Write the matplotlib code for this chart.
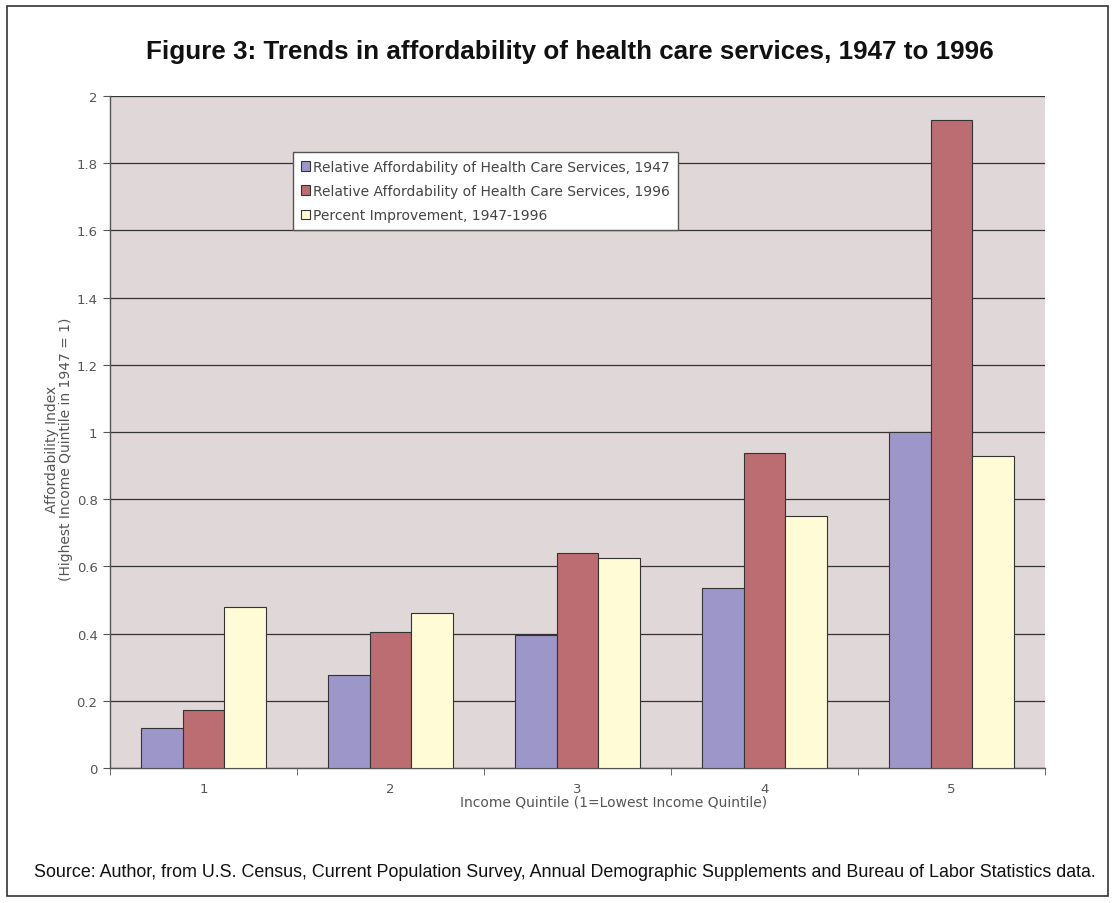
import numpy as np
import matplotlib.pyplot as plt
from matplotlib.patches import Rectangle

quintiles = ["1", "2", "3", "4", "5"]
afford_1947 = [0.118, 0.277, 0.396, 0.536, 1.0]
afford_1996 = [0.172, 0.405, 0.64, 0.937, 1.93]
pct_improve = [0.478, 0.461, 0.625, 0.75, 0.929]

series_names = [
    "Relative Affordability of Health Care Services, 1947",
    "Relative Affordability of Health Care Services, 1996",
    "Percent Improvement, 1947-1996",
]
colors = ["#9C97C8", "#BC6D71", "#FFFBD6"]

W, H = 1114, 904
fig = plt.figure(figsize=(W / 100, H / 100), dpi=100)
fig.patch.set_facecolor("white")

# outer frame
fig.patches.append(Rectangle((7 / W, 1 - 897 / H), 1101 / W, 890 / H,
                             transform=fig.transFigure, fill=False,
                             edgecolor="#333333", linewidth=1.2))

ax = fig.add_axes([110 / W, 1 - 769 / H, 935 / W, 672 / H])
ax.set_facecolor("#E0D8D8")

x = np.arange(len(quintiles))
bw = 0.222
for i, (vals, c, name) in enumerate(zip([afford_1947, afford_1996, pct_improve], colors, series_names)):
    ax.bar(x + (i - 1) * bw, vals, width=bw, color=c, edgecolor="#333333",
           linewidth=0.8, label=name, zorder=3)

ax.set_xlim(-0.5, len(quintiles) - 0.5)
ax.set_ylim(0, 2)
ax.set_yticks(np.arange(0, 2.01, 0.2))
ax.set_yticklabels(["0", "0.2", "0.4", "0.6", "0.8", "1", "1.2", "1.4", "1.6", "1.8", "2"])
ax.yaxis.grid(True, color="#333333", linewidth=0.9, zorder=1)
ax.set_axisbelow(True)

ax.set_xticks(x)
ax.set_xticklabels(quintiles)
ax.set_xticks(np.arange(-0.5, len(quintiles), 1), minor=True)
ax.tick_params(axis="x", which="major", length=0, pad=10, labelsize=9.5, labelcolor="#555555")
ax.tick_params(axis="x", which="minor", length=5, color="#555555", direction="out")
ax.tick_params(axis="y", length=5, color="#555555", labelsize=9.5, labelcolor="#555555", pad=4)

for s in ["top", "right"]:
    ax.spines[s].set_visible(False)
for s in ["left", "bottom"]:
    ax.spines[s].set_color("#555555")
    ax.spines[s].set_linewidth(1.0)

leg = ax.legend(loc="upper left", bbox_to_anchor=((293 - 110) / 935, (769 - 153) / 672),
                fontsize=10, frameon=True, fancybox=False, handlelength=0.7,
                handleheight=0.7, handletextpad=0.2, borderpad=0.55, labelspacing=0.75,
                borderaxespad=0)
leg.get_frame().set_edgecolor("#555555")
leg.get_frame().set_facecolor("white")
leg.get_frame().set_alpha(1)
for t in leg.get_texts():
    t.set_color("#444444")

fig.text(570 / W, 1 - 52 / H,
         "Figure 3: Trends in affordability of health care services, 1947 to 1996",
         ha="center", va="center", fontsize=18.7, fontweight="bold",
         family="Liberation Sans", color="#111111")

fig.text(614 / W, 1 - 803 / H, "Income Quintile (1=Lowest Income Quintile)",
         ha="center", va="center", fontsize=10, color="#555555")

fig.text(59 / W, 1 - 449 / H, "Affordability Index\n(Highest Income Quintile in 1947 = 1)",
         ha="center", va="center", rotation=90, fontsize=10, color="#555555",
         linespacing=1.0)

fig.text(565 / W, 1 - 873 / H,
         "Source: Author, from U.S. Census, Current Population Survey, Annual Demographic "
         "Supplements and Bureau of Labor Statistics data.",
         ha="center", va="center", fontsize=12.9, family="Liberation Sans", color="#111111")

fig.savefig("out.png", dpi=100)
